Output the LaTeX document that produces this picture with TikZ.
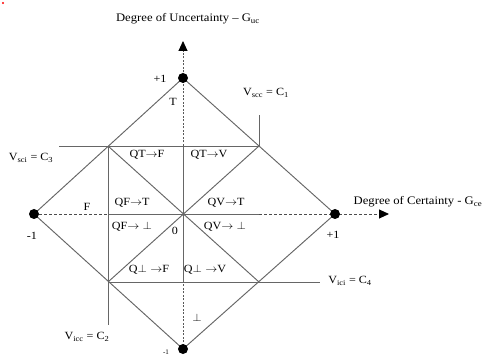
\documentclass[tikz,border=0pt]{standalone}
\usepackage{fontspec}
\setmainfont{Liberation Serif}
\usetikzlibrary{arrows.meta}
\newcommand{\sxx}[1]{\scalebox{1.1}[1]{#1}}
\begin{document}
\begin{tikzpicture}[x=1pt,y=1pt,
  ln/.style={draw=black!60, line width=0.95pt},
  axd/.style={draw=black!70, line width=0.9pt, dash pattern=on 3pt off 2pt},
  axv/.style={draw=black!65, line width=0.9pt, dash pattern=on 2pt off 1.5pt},
  dot/.style={circle, fill=black, inner sep=0pt, minimum size=10pt},
  lbl/.style={inner sep=0pt, font=\fontsize{11}{13}\selectfont},
  big/.style={inner sep=0pt, font=\fontsize{11.5}{13}\selectfont},
  tip/.style={-{Triangle[length=10pt,width=9pt,color=black]}},
  ]
\useasboundingbox (0,0) rectangle (489,356);
% geometry
\coordinate (O) at (183,142);
\coordinate (Tc) at (183,278);
\coordinate (Bc) at (183,7);
\coordinate (Lc) at (34,142);
\coordinate (Rc) at (335,142);
\coordinate (UL) at (108,210);
\coordinate (UR) at (259,210);
\coordinate (LL) at (108,74);
\coordinate (LR) at (259,74);
\coordinate (ML) at (108,142);
\coordinate (MR) at (259,142);
\coordinate (MU) at (183,210);
\coordinate (MD) at (183,74);
\coordinate (c3end) at (59,210);
\coordinate (c1end) at (259,241);
\coordinate (c4end) at (320,74);
\coordinate (c2end) at (108,31);
\coordinate (xtip) at (389,142);
\coordinate (ytip) at (183,315);

% axes
\draw[axd] (Lc) -- (ML);
\draw[ln] (ML) -- (MR);
\draw[axd,tip] (MR) -- (xtip);
\draw[axv,tip] (MU) -- (ytip);
\draw[ln] (MD) -- (MU);
\draw[axv] (Bc) -- (MD);

% diamond
\draw[ln] (Tc) -- (Rc) -- (Bc) -- (Lc) -- cycle;
% control lines
\draw[ln] (c3end) -- (UR) -- (c1end);
\draw[ln] (UL) -- (c2end);
\draw[ln] (LL) -- (c4end);
% diagonals
\draw[ln] (UL) -- (LR);
\draw[ln] (LL) -- (UR);

% dots
\node[dot] (Tp) at (Tc) {};
\node[dot] (Bt) at (Bc) {};
\node[dot] (Lf) at (Lc) {};
\node[dot] (Rt) at (Rc) {};
\fill[red] (3,353) circle (1.2pt);

% texts
\node[big] (ytitle) at (188,337) {\sxx{Degree of Uncertainty – G\textsubscript{uc}}};
\node[big] (xtitle) at (418,154) {\sxx{Degree of Certainty - G\textsubscript{ce}}};
\node[lbl] (pt) at (160,277) {\sxx{+1}};
\node[lbl] (tl) at (173,254) {\sxx{T}};
\node[lbl] (fl) at (87,149) {\sxx{F}};
\node[lbl] (ml) at (32,120) {\sxx{-1}};
\node[lbl] (pr) at (333,121) {\sxx{+1}};
\node[lbl] (zl) at (175,125) {\sxx{0}};
\node[lbl] (bl) at (197,38) {\sxx{$\bot$}};
\node[inner sep=0pt, font=\fontsize{7}{8}\selectfont] (mb) at (166,4) {-1};
\node[lbl] (v1) at (266,263) {\sxx{V\textsubscript{scc} = C\textsubscript{1}}};
\node[lbl] (v3) at (31,198) {\sxx{V\textsubscript{sci} = C\textsubscript{3}}};
\node[lbl] (v2) at (87,19) {\sxx{V\textsubscript{icc} = C\textsubscript{2}}};
\node[lbl] (v4) at (350,75) {\sxx{V\textsubscript{ici} = C\textsubscript{4}}};
% regions
\node[lbl] (r1) at (147,201) {\sxx{QT$\rightarrow$F}};
\node[lbl] (r2) at (209,201) {\sxx{QT$\rightarrow$V}};
\node[lbl] (r3) at (132,153) {\sxx{QF$\rightarrow$T}};
\node[lbl] (r4) at (226,153) {\sxx{QV$\rightarrow$T}};
\node[lbl] (r5) at (132,129) {\sxx{QF$\rightarrow\bot$}};
\node[lbl] (r6) at (225,129) {\sxx{QV$\rightarrow\bot$}};
\node[lbl] (r7) at (149,86) {\sxx{Q$\bot\rightarrow$F}};
\node[lbl] (r8) at (205,86) {\sxx{Q$\bot\rightarrow$V}};
\end{tikzpicture}
\end{document}
